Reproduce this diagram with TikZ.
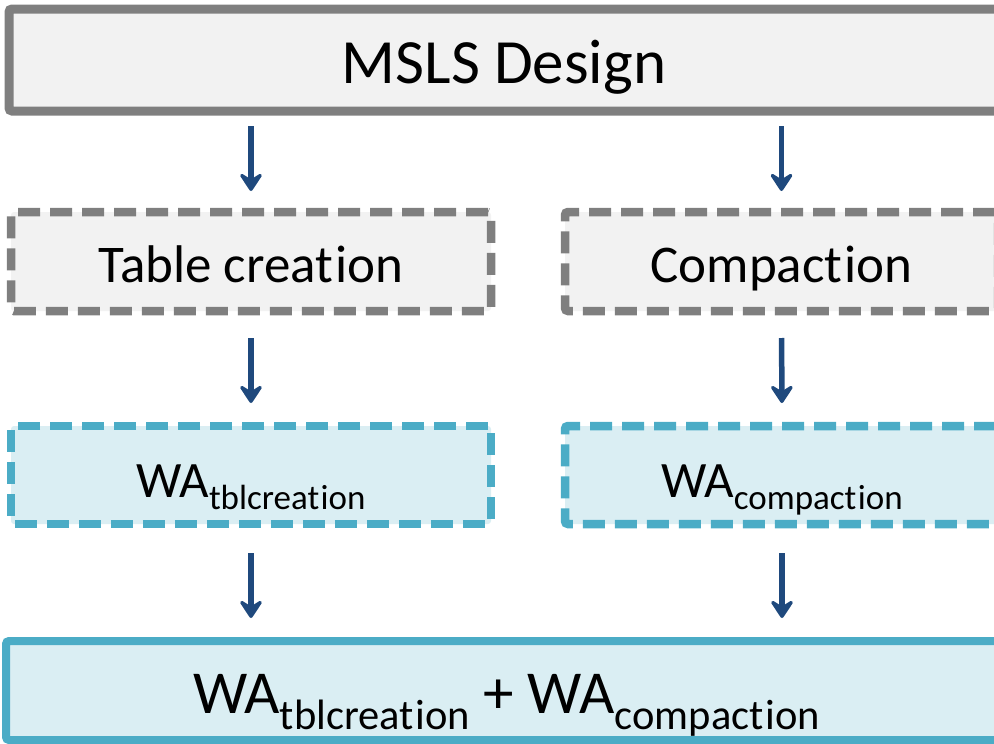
\documentclass[tikz,border=0pt]{standalone}
\usepackage{fontspec}
\setmainfont{Carlito}
\usetikzlibrary{arrows.meta}

\definecolor{boxgray}{HTML}{7F7F7F}
\definecolor{boxgrayfill}{HTML}{F2F2F2}
\definecolor{teal}{HTML}{4BACC6}
\definecolor{tealfill}{HTML}{DAEEF3}
\definecolor{arrowblue}{HTML}{1F497D}

\tikzset{
  box/.style={rectangle, inner sep=0pt, outer sep=0pt, rounded corners=3pt, align=center},
  designbox/.style={box, draw=boxgray, fill=boxgrayfill, line width=9pt,
    font=\fontsize{63}{70}\selectfont, text height=50pt, text depth=4pt},
  stagebox/.style={box, draw=boxgray, fill=boxgrayfill, line width=8.5pt,
    dash pattern=on 22pt off 10pt,
    font=\fontsize{53}{60}\selectfont, text height=45pt, text depth=4pt},
  wabox/.style={box, draw=teal, fill=tealfill, line width=8.5pt,
    dash pattern=on 22pt off 10pt,
    font=\fontsize{51}{58}\selectfont, text height=48pt, text depth=4pt},
  sumbox/.style={box, draw=teal, fill=tealfill, line width=8pt,
    font=\fontsize{61}{66}\selectfont, text height=49pt, text depth=4pt},
  flow/.style={draw=arrowblue, line width=5.5pt,
    -{Stealth[length=22pt, width=29pt, inset=9pt, round]}},
}

% "ti" kept as two separate letters with a hair of space between them
\newcommand{\tI}{t\kern0.04em i}
% subscripted write-amplification terms
\newcommand{\wasmall}[1]{WA\raisebox{-12pt}{\fontsize{35}{40}\selectfont #1}}
\newcommand{\walarge}[1]{WA\raisebox{-16pt}{\fontsize{42.5}{46}\selectfont #1}}

\begin{document}
\begin{tikzpicture}[x=1pt, y=-1pt]
  \useasboundingbox (0,0) rectangle (994,744);
  \clip (0,0) rectangle (994,744);

  \node[designbox, minimum width=990pt, minimum height=102pt] (design) at (504,60) {MSLS Design};

  \node[stagebox, minimum width=480pt, minimum height=99pt] (tbl) at (251,261.5) {Table crea\tI on};
  \node[stagebox, minimum width=433pt, minimum height=99pt] (cmp) at (781.5,261.5) {Compac\tI on};

  \node[wabox, minimum width=480pt, minimum height=98pt] (watbl) at (251,475) {\wasmall{tblcrea\tI on}};
  \node[wabox, minimum width=434pt, minimum height=98pt] (wacmp) at (782,475) {\wasmall{compac\tI on}};

  \node[sumbox, minimum width=1001pt, minimum height=99pt] (sum) at (506.5,690.5)
    {\walarge{tblcrea\tI on} + \walarge{compac\tI on}};

  % design splits into the two write paths
  \draw[flow, shorten <=15pt, shorten >=21pt] (design.south -| tbl.north) -- (tbl.north);
  \draw[flow, shorten <=15pt, shorten >=21pt] (design.south -| cmp.north) -- (cmp.north);

  \draw[flow, shorten <=27pt, shorten >=23pt] (tbl.south) -- (watbl.north);
  \draw[flow, shorten <=27pt, shorten >=23pt] (cmp.south) -- (wacmp.north);

  \draw[flow, shorten <=29pt, shorten >=23pt] (watbl.south) -- (watbl.south |- sum.north);
  \draw[flow, shorten <=29pt, shorten >=23pt] (wacmp.south) -- (wacmp.south |- sum.north);
\end{tikzpicture}
\end{document}
